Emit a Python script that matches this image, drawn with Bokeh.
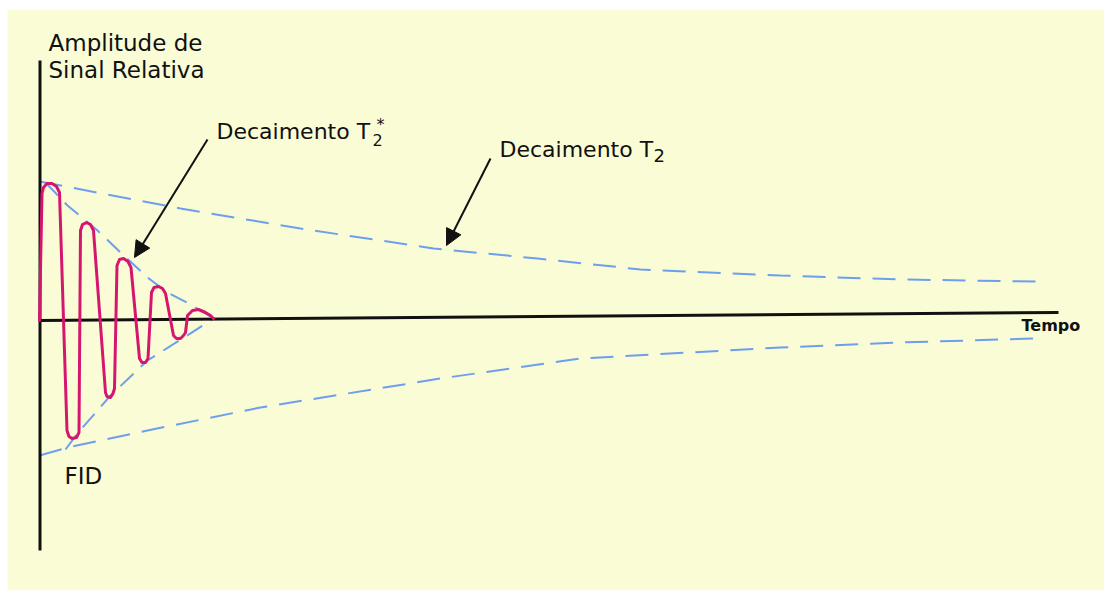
from bokeh.plotting import figure
from bokeh.models import Range1d, Arrow, NormalHead, Label
from bokeh.embed import file_html
from bokeh.resources import INLINE

# ---- data (arbitrary time units, relative amplitude units) ----
fid_time = [0, 2.5, 4, 7.5, 12.5, 17, 20, 27.5, 29.5, 32.5, 37, 39.5,
            41, 43, 47, 51, 54, 66, 67.5, 71, 73.5, 75,
            77.5, 80, 84, 88.5, 91.5, 100, 102.5, 106, 108.5,
            112, 114.5, 119, 123, 126, 134, 137, 141, 144, 146,
            148, 153, 159, 166, 171, 174]
fid_amp = [0, 127, 133, 137, 137, 134, 128, -110, -116, -118, -117, -112,
           90, 96, 98, 96, 90, -72, -76, -77, -73, -68,
           55, 61, 62, 59, 53, -38, -42, -42, -38,
           28, 33, 34, 32, 27, -15, -18, -18, -15, -12,
           5, 10, 11, 8, 5, 2]

t2_upper_time = [0, 141, 261, 394, 498, 601, 741, 861, 996]
t2_upper_amp = [139, 112, 92, 72, 62, 51, 45, 41, 39]
t2_lower_time = [0, 28, 108, 221, 401, 541, 741, 861, 996]
t2_lower_amp = [-135, -127, -110, -87, -58, -38, -27, -22, -18]

t2s_upper_time = [6, 28, 58, 81, 108, 128, 153, 174]
t2s_upper_amp = [138, 115, 90, 68, 43, 28, 15, 2]
t2s_lower_time = [26, 38, 71, 108, 143, 174]
t2s_lower_amp = [-129, -113, -75, -40, -18, 2]

time_axis_t = [0, 1019]
time_axis_a = [0, 8]
amp_axis_t = [0.5, 0.5]
amp_axis_a = [260, -230]

BG = "#FAFCD6"
BLUE = "#6E9EEE"
RED = "#D6166E"
INK = "#111111"
FONT = "DejaVu Sans"

p = figure(width=1104, height=590, x_range=Range1d(-32, 1065), y_range=Range1d(-270, 311),
           output_backend="svg", toolbar_location=None,
           min_border_left=7, min_border_top=9, min_border_right=0, min_border_bottom=0,
           x_axis_type=None, y_axis_type=None,
           background_fill_color=BG, border_fill_color="white", outline_line_color=None)
p.grid.visible = False

dash = "23 12"
p.line(t2_upper_time, t2_upper_amp, line_color=BLUE, line_width=2, line_dash=dash)
p.line(t2_lower_time, t2_lower_amp, line_color=BLUE, line_width=2, line_dash=dash)
p.line(t2s_upper_time, t2s_upper_amp, line_color=BLUE, line_width=2, line_dash="18 10")
p.line(t2s_lower_time, t2s_lower_amp, line_color=BLUE, line_width=2, line_dash="18 10")

p.line(time_axis_t, time_axis_a, line_color=INK, line_width=3)
p.line(amp_axis_t, amp_axis_a, line_color=INK, line_width=3)

p.line(fid_time, fid_amp, line_color=RED, line_width=3, line_join="round", line_cap="round")

for xs, ys, xe, ye in [(168, 181, 95, 63), (451, 162, 407, 75)]:
    p.add_layout(Arrow(end=NormalHead(size=16, fill_color=INK, line_color=INK),
                       x_start=xs, y_start=ys, x_end=xe, y_end=ye,
                       line_color=INK, line_width=2))

def lab(x, y, text, size, bold=False):
    p.add_layout(Label(x=x, y=y, text=text, text_font=FONT, text_font_size=f"{size}px",
                       text_color=INK, text_baseline="alphabetic", text_align="left",
                       text_font_style="bold" if bold else "normal"))

lab(9, 278, "Amplitude de", 23)
lab(9, 251, "Sinal Relativa", 23)
lab(177, 189, "Decaimento T", 22)
lab(333, 181, "2", 16)
lab(337, 196, "*", 16)
lab(460, 171, "Decaimento T", 22)
lab(614, 165, "2", 18)
lab(25, -155, "FID", 23)
lab(982, -5, "Tempo", 16, bold=True)

open("out.html", "w").write(file_html(p, INLINE))
